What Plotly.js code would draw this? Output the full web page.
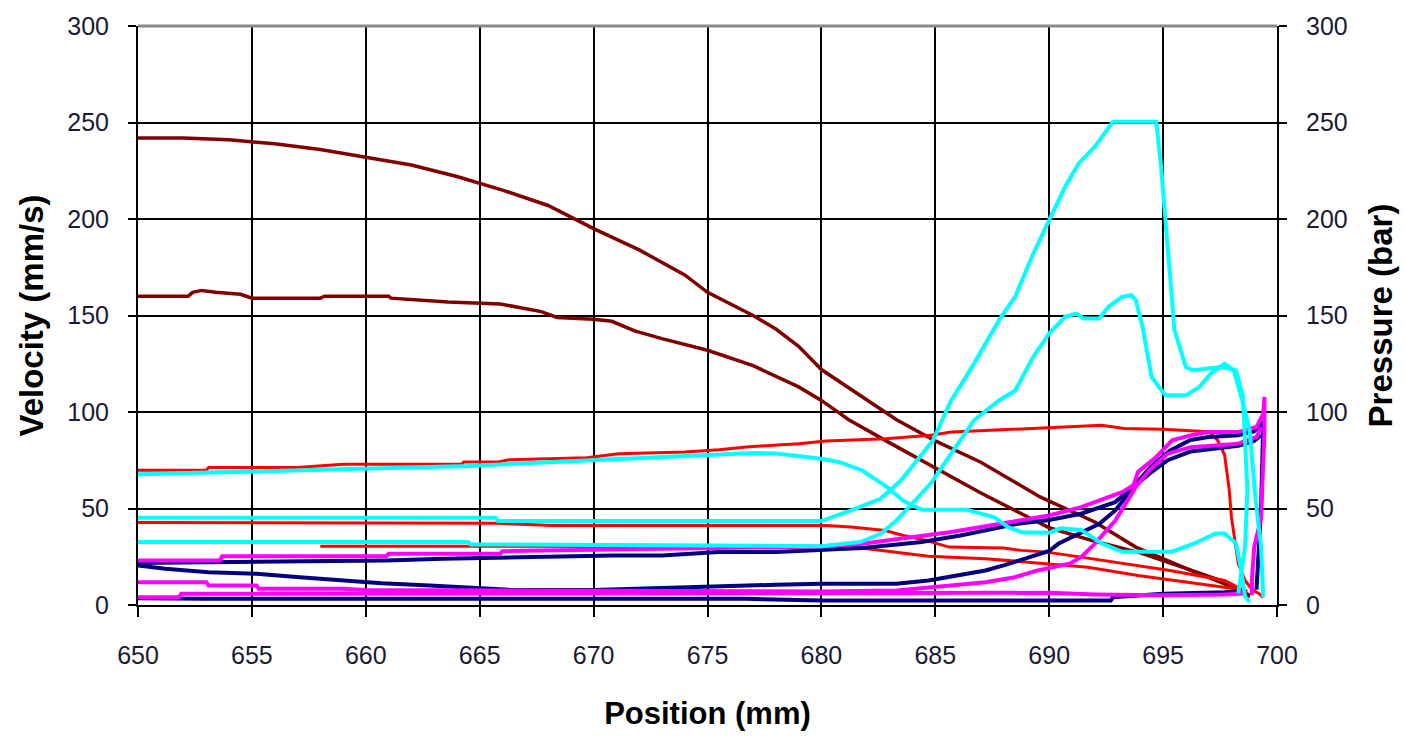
<!DOCTYPE html>
<html>
<head>
<meta charset="utf-8">
<script src="https://cdn.plot.ly/plotly-3.0.1.min.js"></script>
<style>html,body{margin:0;padding:0;background:#fff;}#chart{width:1406px;height:736px;}</style>
</head>
<body>
<div id="chart"></div>
<script>
// ---- Velocity (maroon) ----
var velAx = [650,652,654,656,658,660,662,664,666,668,670,672,674,675,677,678,679,680,682,683.3,685,687,689.6,692,693.8,695,696,697.7,698.3,698.8];
var velAy = [242,242,241,239,236,232,228,222,215,207,195,184,171,162,150,143,134,122,106,96,85,74,56,43,30,24,19,12,8,5];
var velBx = [650,652.2,652.4,652.8,653.4,654.5,655,658,658.2,661,661.1,662.6,663.6,665.9,666.8,667.7,668.4,670,670.8,671.8,673,675,677,679,680,681.2,683,685,687,689,690,692,694,696,697.7,698.3,698.8];
var velBy = [160,160,162,163,162,161,159,159,160,160,159,158,157,156,154,152,149,148,147,142,138,132,124,113,106,96,84,71,58,46,40,33,27,19,11,7,4];

// ---- Red series ----
var red1x = [650,653,653.1,657,659,664.2,664.3,665.8,666.3,669.7,671.1,674,675.5,676.7,679,680.2,682.8,684.8,685.7,688.9,690.5,692.3,693.3,695,697,697.4,697.7,697.9,698,698.3,698.6,698.9,699.2,699.4];
var red1y = [69.8,69.8,71.2,71.2,72.9,72.9,74.1,74.1,75.3,76.3,78.4,79.3,80.5,81.9,83.6,85,86.2,87.9,89.6,91.4,92.2,93.1,91.4,91,89.8,85.3,77.7,60,45.5,21.5,12.7,8,6,4];
var red2x = [650,665.7,668.2,680.2,681.3,682.8,683.6,684.6,685.6,688,688.8,689.9,691.4,693.4,695.3,697.7,698.3,698.7];
var red2y = [42.8,42.4,41.2,41.2,40.4,38.6,36,33.5,30,29.5,28.3,27.4,24.8,21.4,17.9,12.7,9,7];
var red3x = [658,664.5,680,681.4,683.3,684.7,687.2,690,691.7,693.9,696.1,698,698.5];
var red3y = [30.5,30.5,30.2,30,27.4,25.2,24,21.4,19.6,15.3,11.8,8.7,7];

// ---- Navy series ----
var navy1x = [650,651.2,653.1,655.2,657.1,659,660.7,662.8,664.5,666.3,670,672,675.5,678,680,683.3,684.7,686,687.2,688,689.2,690,690.4,691.3,692.2,692.9,693.7,694.4,695.2,696.2,697.3,698.3,699,699.3];
var navy1y = [20.5,18.8,17,16.2,14.4,12.7,11.3,10.1,8.9,7.9,7.8,8.5,10.1,10.5,11,11,12.7,15.3,17.9,20.5,24.8,28,31.7,36.9,42.1,49,61.1,68,75,79.5,81,82.5,85,88];
var navy2x = [650,660.9,663.4,666.7,668.2,670.8,673,675.5,678,680,681.8,684.4,686.1,688.6,690,691.4,692.9,693.7,694.5,695.3,696.2,697,698.3,699,699.4,699.3,699.15,699.1];
var navy2y = [21.8,23.1,24,24.8,24.8,25.7,25.7,27.4,27.4,28.6,29.5,32.6,36,42.1,44,47.3,53.3,61.5,72,80,85.5,87,88,90,95,50,20,8];
var navy3x = [650,651.7,653,676.7,680,690,692.7,692.8,695,697.7,698.3];
var navy3y = [3.5,3.2,3.2,3.2,2.3,2.3,2.3,4,5.8,6.6,7];

// ---- Magenta series ----
var mag1x = [650,653.6,653.7,660.9,661,665.9,666,670.8,675.5,680,681.8,684,685.7,687.4,688.6,690,691.4,693.2,693.7,693.9,694.7,695.4,696.2,697,698.3,699.1,699.4,699.45,699.45,699.4,699.3,699.0,698.9,698.9];
var mag1y = [23.1,23.1,25.2,25.2,26.5,26.5,27.9,28.6,29.2,30.3,31.7,35.2,37.8,41.2,43.8,46.4,50.7,58.5,62,68.9,76.7,85.3,87.9,89.6,89.6,92.2,99.2,107.8,90,70,45,30,13,5];
var mag2x = [650,653,653.1,655.2,655.3,659,660,666.7,670,675,680,683.3,685.7,687.2,688.5,689.5,690.9,691.4,692,692.9,693.8,694.4,695.2,696.2,697.3,698.3,699.1,699.3];
var mag2y = [11.8,11.8,10.1,10.1,8.4,8.4,7.8,7.5,7.5,7.2,7,7.5,10.1,11.8,14.4,17.9,21.4,24.8,31.7,43.8,61.1,69.8,78.4,81.8,82.7,83.6,87,92];
var mag3x = [650,651.8,651.9,659,666.7,680,690,692,695,697.7,698.5];
var mag3y = [4,4,5.8,5.8,5.8,6.3,6.3,5.5,5,5.5,6];

// ---- Pressure (cyan) ----
var pres1x = [650,653,657,661,664.5,667,671,674,677,678,680,680.8,681.8,682.9,683.6,684.4,686.4,687.6,688.2,688.8,690,690.5,691.4,692.3,693.2,695.4,696.4,697.3,697.7,698.2,698.4,698.6,698.8];
var pres1y = [67.7,68.5,69.5,70.6,72,73.5,75.5,77,78.8,78.5,75.8,74,69.7,61,54,49.3,49.3,45.4,40.3,37.7,37.5,39.7,38.9,32,27.6,27.6,32,37,37,32,20,4.4,1.5];
var pres2x = [650,665.7,665.8,680,681.3,682.6,683.5,684.2,684.9,685.3,685.7,686.6,687.8,688.5,689.3,690,690.7,691.3,692,692.8,694.7,694.9,695.1,695.3,695.5,696,696.3,697.6,698.2,698.5,698.6,698.7,698.6,698.3];
var pres2y = [45.2,45.2,43.5,43.5,49,55,64.6,75,85.3,95.7,106,123,147.6,159.6,182,199.4,216.7,228.8,237.4,250.4,250.4,228.8,201,171.8,142.4,123.3,121.6,123.3,121.6,108.5,80,60,30,6];
var pres3x = [650,664.5,664.6,680,681.7,682.6,683.3,684,684.8,685.5,686,686.7,687.8,688.5,689.3,690,690.7,691.2,691.5,692.2,692.6,693.2,693.6,693.8,694.1,694.5,695.1,696,696.6,697.1,697.7,698.1,698.5,698.8,699.05,699.3,699.4];
var pres3y = [32.6,32.6,31.4,30.5,32.6,36.9,43.8,52.5,62.9,75,83.6,95.7,106,111,128.5,140.7,149.3,151,148.5,148.5,154.5,159.6,160.5,158,144,118,108.7,108.7,113,120,125,121.6,105,90.5,56,30,4];

var xTicks = [650,655,660,665,670,675,680,685,690,695,700];
var yTicks = [0,50,100,150,200,250,300];

function tr(x, y, color, width, axis) {
  return {x:x, y:y, type:'scatter', mode:'lines', yaxis:axis||'y',
          line:{color:color, width:width}, hoverinfo:'skip'};
}

var data = [
  tr(velAx, velAy, '#800000', 3.5),
  tr(velBx, velBy, '#800000', 3.5),
  tr(red1x, red1y, '#FF0000', 3),
  tr(red2x, red2y, '#FF0000', 3),
  tr(red3x, red3y, '#FF0000', 3),
  tr(navy1x, navy1y, '#000080', 4),
  tr(navy2x, navy2y, '#000080', 4),
  tr(navy3x, navy3y, '#000080', 4),
  tr(mag1x, mag1y, '#FF00FF', 4),
  tr(mag2x, mag2y, '#FF00FF', 4),
  tr(mag3x, mag3y, '#FF00FF', 4),
  tr(pres1x, pres1y, '#00FFFF', 4, 'y2'),
  tr(pres2x, pres2y, '#00FFFF', 4, 'y2'),
  tr(pres3x, pres3y, '#00FFFF', 4, 'y2')
];

var tickFont = {family:'Arial, "Liberation Sans", sans-serif', size:25, color:'#1a1a33'};
var xTitleFont = {family:'Arial, "Liberation Sans", sans-serif', size:31, color:'#000'};
var yTitleFont = {family:'Arial, "Liberation Sans", sans-serif', size:33, color:'#000'};

var layout = {
  width:1406, height:736,
  margin:{l:138, r:129, t:26, b:131, pad:0},
  paper_bgcolor:'#ffffff', plot_bgcolor:'#ffffff',
  showlegend:false,
  xaxis:{range:[650,700], tickvals:xTicks, ticktext:xTicks.map(String),
         ticks:'outside', ticklen:10, tickwidth:2, tickcolor:'#000',
         showline:true, linecolor:'#000', linewidth:2,
         showgrid:true, gridcolor:'#000', gridwidth:2, zeroline:false,
         tickfont:tickFont, ticklabelstandoff:17,
         title:{text:'<b>Position (mm)</b>', font:xTitleFont, standoff:34}},
  yaxis:{range:[0,300], tickvals:yTicks, ticktext:yTicks.map(String),
         ticks:'outside', ticklen:8, tickwidth:2, tickcolor:'#000',
         showline:true, linecolor:'#000', linewidth:2,
         showgrid:true, gridcolor:'#000', gridwidth:2, zeroline:false,
         tickfont:tickFont, ticklabelstandoff:14,
         title:{text:'<b>Velocity (mm/s)</b>', font:yTitleFont, standoff:14}},
  yaxis2:{range:[0,300], overlaying:'y', side:'right', tickvals:yTicks, ticktext:yTicks.map(String),
          ticks:'outside', ticklen:8, tickwidth:2, tickcolor:'#000',
          showline:true, linecolor:'#000', linewidth:2,
          showgrid:false, zeroline:false,
          tickfont:tickFont, ticklabelstandoff:14,
          title:{text:'<b>Pressure (bar)</b>', font:yTitleFont, standoff:22}},
  shapes:[{type:'line', xref:'paper', yref:'paper', x0:0, x1:1, y0:1, y1:1,
           line:{color:'#8a8a8a', width:3}, layer:'above'}]
};

Plotly.newPlot('chart', data, layout, {staticPlot:true, displayModeBar:false});
</script>
</body>
</html>
